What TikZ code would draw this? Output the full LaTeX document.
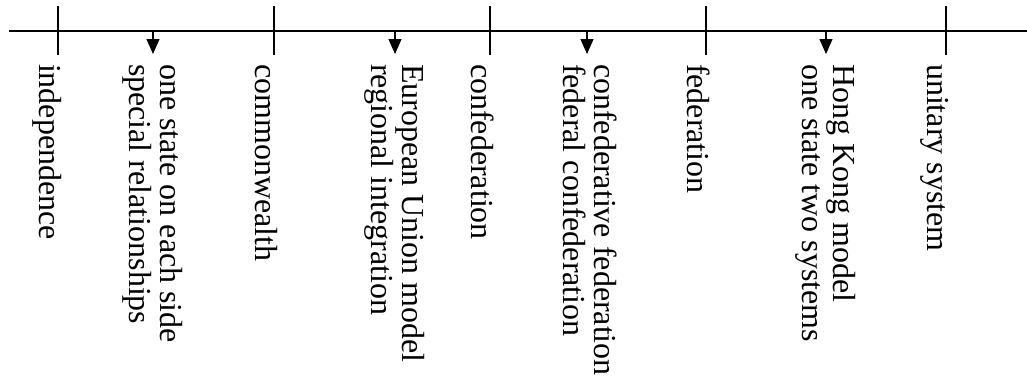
\documentclass[tikz,border=0pt]{standalone}
\usepackage{fontspec}
\setmainfont{Liberation Serif}
\usetikzlibrary{arrows.meta}
\begin{document}
\begin{tikzpicture}[x=1pt,y=-1pt,
  axisline/.style={line width=1.2pt},
  tickline/.style={line width=1.2pt},
  pointer/.style={line width=1.2pt,-{Triangle[width=13pt,length=15pt]}},
  vlabel/.style={rotate=-90,anchor=base west,inner sep=0pt,outer sep=0pt,
    align=left,font=\fontsize{32}{30.5}\selectfont}]
\useasboundingbox (0,0) rectangle (1027,378);

% axis
\coordinate (axL) at (9,31);
\coordinate (axR) at (1027,31);
\draw[axisline] (axL) -- (axR);

% ticks with their labels
\foreach \name/\x/\txt in {t1/58/independence, t2/274/commonwealth,
    t3/490/confederation, t4/706/federation, t5/946/unitary system}{
  \coordinate (\name top) at (\x,6);
  \coordinate (\name bot) at (\x,55);
  \draw[tickline] (\name top) -- (\name bot);
  \node[vlabel] (\name lab) at (\x-19,64) {\txt};
}

% intermediate forms, marked by arrows (base anchor sits on the last line)
\foreach \name/\x/\txt in {
    a1/153/{one state on each side\\special relationships},
    a2/395/{European Union model\\regional integration},
    a3/587/{confederative federation\\federal confederation},
    a4/826/{Hong Kong model\\one state two systems}}{
  \coordinate (\name start) at (\x,31);
  \coordinate (\name tip) at (\x,54);
  \draw[pointer] (\name start) -- (\name tip);
  \node[vlabel] (\name lab) at (\x-23.5,64) {\txt};
}
\end{tikzpicture}
\end{document}
